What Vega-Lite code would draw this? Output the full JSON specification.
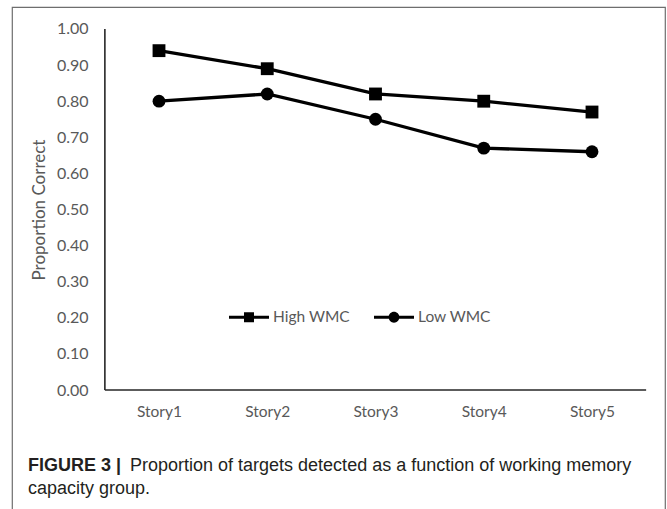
{
  "$schema": "https://vega.github.io/schema/vega-lite/v6.json",
  "width": 653,
  "height": 510,
  "autosize": {"type": "none"},
  "padding": {"left": 12, "top": 7, "right": 2, "bottom": 0},
  "background": "white",
  "config": {
    "view": {"stroke": "#6e6e6e", "strokeWidth": 1.2},
    "axis": {"grid": false}
  },
  "data": {
    "values": [
      {"story": "Story1", "n": 1, "group": "High WMC", "value": 0.94},
      {"story": "Story2", "n": 2, "group": "High WMC", "value": 0.89},
      {"story": "Story3", "n": 3, "group": "High WMC", "value": 0.82},
      {"story": "Story4", "n": 4, "group": "High WMC", "value": 0.80},
      {"story": "Story5", "n": 5, "group": "High WMC", "value": 0.77},
      {"story": "Story1", "n": 1, "group": "Low WMC", "value": 0.80},
      {"story": "Story2", "n": 2, "group": "Low WMC", "value": 0.82},
      {"story": "Story3", "n": 3, "group": "Low WMC", "value": 0.75},
      {"story": "Story4", "n": 4, "group": "Low WMC", "value": 0.67},
      {"story": "Story5", "n": 5, "group": "Low WMC", "value": 0.66}
    ]
  },
  "resolve": {"scale": {"shape": "independent"}, "legend": {"shape": "independent"}},
  "layer": [
    {
      "mark": {"type": "line", "color": "black", "strokeWidth": 3.3},
      "encoding": {
        "x": {
          "field": "n", "type": "quantitative",
          "scale": {"domain": [-0.35797, 5.67436], "nice": false, "zero": false},
          "axis": {
            "values": [1, 2, 3, 4, 5],
            "labelExpr": "'Story' + datum.value",
            "domain": false, "ticks": false, "grid": false,
            "offset": -127, "labelPadding": 14, "labelFlush": false,
            "labelFont": "Lato", "labelFontSize": 15.5, "labelColor": "#595959",
            "title": null
          }
        },
        "y": {
          "field": "value", "type": "quantitative",
          "scale": {"domain": [-0.3518, 1.06094], "nice": false, "zero": false},
          "axis": {
            "values": [0, 0.1, 0.2, 0.3, 0.4, 0.5, 0.6, 0.7, 0.8, 0.9, 1.0],
            "format": ".2f",
            "domain": false, "ticks": false, "grid": false,
            "offset": -93, "labelPadding": 17, "labelFlush": false,
            "labelFont": "Lato", "labelFontSize": 16, "labelColor": "#595959",
            "title": "Proportion Correct",
            "titleFont": "Lato", "titleFontSize": 17, "titleFontWeight": "normal",
            "titleColor": "#595959",
            "titleX": -66, "titleY": 202.5, "titleAngle": -90,
            "titleBaseline": "middle", "titleAlign": "center"
          }
        },
        "detail": {"field": "group", "type": "nominal"}
      }
    },
    {
      "mark": {"type": "point", "filled": true, "size": 165, "opacity": 1, "color": "black"},
      "encoding": {
        "x": {"field": "n", "type": "quantitative"},
        "y": {"field": "value", "type": "quantitative"},
        "shape": {
          "field": "group", "type": "nominal",
          "scale": {"domain": ["High WMC", "Low WMC"], "range": ["square", "circle"]},
          "legend": null
        }
      }
    },
    {
      "mark": {"type": "point", "filled": true, "size": 0, "opacity": 1, "color": "black", "strokeWidth": 0},
      "encoding": {
        "x": {"field": "n", "type": "quantitative"},
        "y": {"field": "value", "type": "quantitative"},
        "shape": {
          "field": "group", "type": "nominal",
          "scale": {
            "domain": ["High WMC", "Low WMC"],
            "range": [
              "M-1,-0.075H-0.25V0.075H-1Z M0.25,-0.075H1V0.075H0.25Z M-0.25,-0.25H0.25V0.25H-0.25Z",
              "M-1,-0.075H-0.24V0.075H-1Z M0.24,-0.075H1V0.075H0.24Z M0.27,0A0.27,0.27,0,1,1,-0.27,0A0.27,0.27,0,1,1,0.27,0Z"
            ]
          },
          "legend": {
            "orient": "none", "legendX": 217, "legendY": 290,
            "direction": "horizontal", "title": null,
            "symbolSize": 1600, "symbolStrokeWidth": 0,
            "symbolFillColor": "black", "symbolOpacity": 1,
            "labelFont": "Lato", "labelFontSize": 15.5, "labelColor": "#595959",
            "labelOffset": 4, "columnPadding": 24, "padding": 0
          }
        }
      }
    },
    {
      "data": {"values": [{}]},
      "mark": {"type": "rule", "color": "#262626", "strokeWidth": 1.6},
      "encoding": {
        "x": {"datum": 0.5, "type": "quantitative"},
        "y": {"datum": 0, "type": "quantitative"},
        "y2": {"datum": 1}
      }
    },
    {
      "data": {"values": [{}]},
      "mark": {"type": "rule", "color": "#262626", "strokeWidth": 1.6},
      "encoding": {
        "x": {"datum": 0.5, "type": "quantitative"},
        "x2": {"datum": 5.5},
        "y": {"datum": 0, "type": "quantitative"}
      }
    },
    {
      "data": {"values": [{}]},
      "mark": {"type": "text", "text": "FIGURE 3 |", "font": "Liberation Sans", "fontWeight": "bold", "fontSize": 18, "align": "left", "baseline": "alphabetic", "color": "#231f20"},
      "encoding": {
        "x": {"datum": -0.21016, "type": "quantitative"},
        "y": {"datum": -0.22438, "type": "quantitative"}
      }
    },
    {
      "data": {"values": [{}]},
      "mark": {"type": "text", "text": "Proportion of targets detected as a function of working memory", "font": "Liberation Sans", "fontSize": 18, "align": "left", "baseline": "alphabetic", "color": "#231f20"},
      "encoding": {
        "x": {"datum": 0.7321, "type": "quantitative"},
        "y": {"datum": -0.22438, "type": "quantitative"}
      }
    },
    {
      "data": {"values": [{}]},
      "mark": {"type": "text", "text": "capacity group.", "font": "Liberation Sans", "fontSize": 18, "align": "left", "baseline": "alphabetic", "color": "#231f20"},
      "encoding": {
        "x": {"datum": -0.21016, "type": "quantitative"},
        "y": {"datum": -0.28809, "type": "quantitative"}
      }
    }
  ]
}
